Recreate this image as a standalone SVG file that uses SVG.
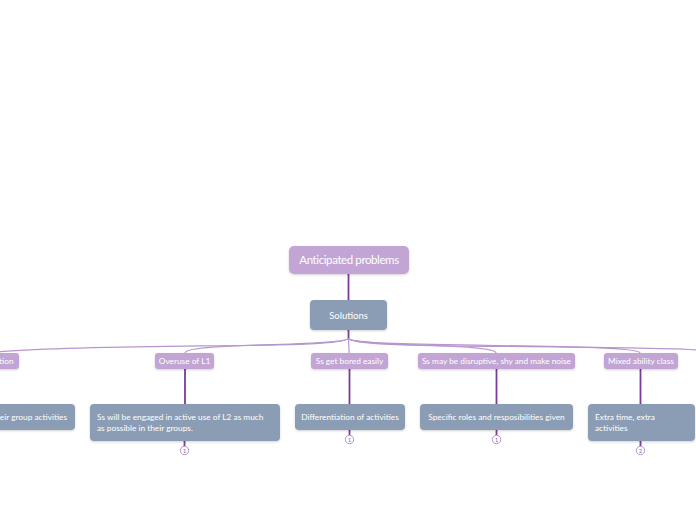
<svg xmlns="http://www.w3.org/2000/svg" width="696" height="520" viewBox="0 0 696 520">
<defs>
<filter id="sh" x="-10%" y="-20%" width="120%" height="150%">
<feDropShadow dx="0" dy="1" stdDeviation="0.8" flood-color="#000" flood-opacity="0.18"/>
</filter>
<style>
.p{fill:#c2a5d4;filter:url(#sh)}
.g{fill:#8b9db4;filter:url(#sh)}
.t{font-family:Lato,"Open Sans",sans-serif;fill:#fff;font-size:8.3px}
.c{text-anchor:middle}
.lc{fill:none;stroke:#b895cc;stroke-width:1.2}
.lv{fill:none;stroke:#7c3a99;stroke-width:1.8}
.b{fill:#fff;stroke:#a77bc4;stroke-width:0.8}
.n{font-family:Lato,sans-serif;font-size:5.5px;fill:#8a5aa8;text-anchor:middle}
</style>
</defs>
<rect width="696" height="520" fill="#fff"/>
<g id="connectors">
<path class="lv" d="M348.5,274 V300"/>
<path class="lv" d="M348.5,330 V340"/>
<path class="lc" d="M348.5,338 C348,350 120,342 -5,352"/>
<path class="lc" d="M348.5,338 C348,347 185,342 185,353"/>
<path class="lc" d="M348.5,338 C348.5,345 349,346 349,353"/>
<path class="lc" d="M348.5,338 C348,347 496,343 496,353"/>
<path class="lc" d="M348.5,338 C348,349 640,342 640,353"/>
<path class="lc" d="M348.5,338 C348,350 580,344 700,350"/>
<path class="lv" d="M185,369 V404"/>
<path class="lv" d="M349.5,369 V404"/>
<path class="lv" d="M496.5,369 V404"/>
<path class="lv" d="M640.5,369 V404"/>
<path class="lv" d="M184.5,441 V446" stroke-width="1"/>
<path class="lv" d="M349.5,430 V435" stroke-width="1"/>
<path class="lv" d="M496.5,430 V435" stroke-width="1"/>
<path class="lv" d="M640.5,441 V446" stroke-width="1"/>
</g>
<g id="root"><rect class="p" x="289" y="246" width="120" height="28" rx="5"/><text class="t c" x="349" y="264" style="font-size:11.5px;letter-spacing:-0.4px">Anticipated problems</text></g>
<g id="solutions"><rect class="g" x="310" y="300" width="77" height="30" rx="4"/><text class="t c" x="348.5" y="318.5" style="font-size:9.5px">Solutions</text></g>
<g id="b0"><rect class="p" x="-40" y="353" width="59" height="16" rx="3"/><text class="t" x="-5" y="364">ation</text></g>
<g id="b1"><rect class="p" x="155" y="353" width="59" height="16" rx="3"/><text class="t c" x="184.5" y="364">Overuse of L1</text></g>
<g id="b2"><rect class="p" x="311" y="353" width="77" height="16" rx="3"/><text class="t c" x="349.5" y="364">Ss get bored easily</text></g>
<g id="b3"><rect class="p" x="418" y="353" width="157" height="16" rx="3"/><text class="t c" x="496.5" y="364">Ss may be disruptive, shy and make noise</text></g>
<g id="b4"><rect class="p" x="604" y="353" width="74" height="16" rx="3"/><text class="t c" x="641" y="364">Mixed ability class</text></g>
<g id="s0"><rect class="g" x="-60" y="404" width="135" height="26" rx="4"/><text class="t" x="67" y="420" text-anchor="end">their group activities</text></g>
<g id="s1"><rect class="g" x="90" y="404" width="190" height="37" rx="4"/><text class="t" x="97" y="420">Ss will be engaged in active use of L2 as much</text><text class="t" x="97" y="431">as possible in their groups.</text></g>
<g id="s2"><rect class="g" x="295" y="404" width="110" height="26" rx="4"/><text class="t c" x="350" y="420">Differentiation of activities</text></g>
<g id="s3"><rect class="g" x="420" y="404" width="153" height="26" rx="4"/><text class="t c" x="496.5" y="420">Specific roles and resposibilities given</text></g>
<g id="s4"><rect class="g" x="588" y="404" width="107" height="37" rx="4"/><text class="t" x="595" y="420">Extra time, extra</text><text class="t" x="595" y="431">activities</text></g>
<g id="m1"><circle class="b" cx="184.5" cy="450.5" r="4.2"/><text class="n" x="184.5" y="452.5">1</text></g>
<g id="m2"><circle class="b" cx="349.5" cy="439.5" r="4.2"/><text class="n" x="349.5" y="441.5">1</text></g>
<g id="m3"><circle class="b" cx="496.5" cy="439.5" r="4.2"/><text class="n" x="496.5" y="441.5">1</text></g>
<g id="m4"><circle class="b" cx="640.5" cy="450.5" r="4.2"/><text class="n" x="640.5" y="452.5">2</text></g>
</svg>
